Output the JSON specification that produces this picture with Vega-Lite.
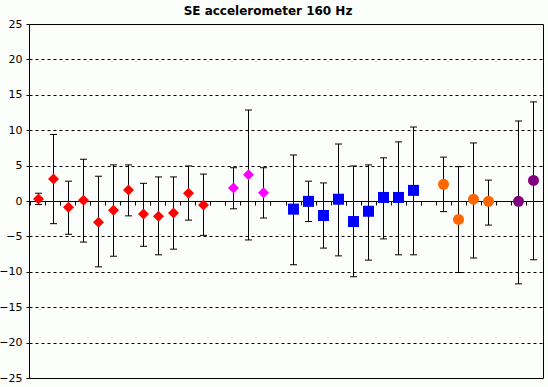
{
  "$schema": "https://vega.github.io/schema/vega-lite/v6.json",
  "width": 514,
  "height": 354,
  "autosize": {"type": "none"},
  "padding": {"left": 29, "top": 24, "right": 5, "bottom": 9},
  "background": "#FCFEFC",
  "title": {"text": "SE accelerometer 160 Hz", "font": "DejaVu Sans", "fontSize": 12, "fontWeight": "bold", "color": "#000000", "anchor": "middle", "dx": -18, "offset": 0},
  "config": {
    "view": {"stroke": "#000000", "strokeWidth": 1},
    "axis": {"labelFont": "DejaVu Sans", "labelFontSize": 11, "labelColor": "#000000"},
    "axisY": {"labelOverlap": false, "labelFlush": false}
  },
  "data": {"values": [
    {"i": 0, "g": "A", "m": 0.3, "lo": -0.5, "hi": 1.1},
    {"i": 1, "g": "A", "m": 3.1, "lo": -3.2, "hi": 9.4},
    {"i": 2, "g": "A", "m": -0.9, "lo": -4.7, "hi": 2.8},
    {"i": 3, "g": "A", "m": 0.1, "lo": -5.8, "hi": 5.9},
    {"i": 4, "g": "A", "m": -3.0, "lo": -9.3, "hi": 3.5},
    {"i": 5, "g": "A", "m": -1.3, "lo": -7.8, "hi": 5.1},
    {"i": 6, "g": "A", "m": 1.55, "lo": -2.1, "hi": 5.1},
    {"i": 7, "g": "A", "m": -1.85, "lo": -6.4, "hi": 2.5},
    {"i": 8, "g": "A", "m": -2.15, "lo": -7.6, "hi": 3.4},
    {"i": 9, "g": "A", "m": -1.7, "lo": -6.8, "hi": 3.4},
    {"i": 10, "g": "A", "m": 1.1, "lo": -2.7, "hi": 4.95},
    {"i": 11, "g": "A", "m": -0.55, "lo": -4.85, "hi": 3.8},
    {"i": 13, "g": "B", "m": 1.85, "lo": -1.1, "hi": 4.7},
    {"i": 14, "g": "B", "m": 3.7, "lo": -5.5, "hi": 12.85},
    {"i": 15, "g": "B", "m": 1.15, "lo": -2.4, "hi": 4.7},
    {"i": 17, "g": "C", "m": -1.15, "lo": -9.0, "hi": 6.5},
    {"i": 18, "g": "C", "m": -0.05, "lo": -2.9, "hi": 2.8},
    {"i": 19, "g": "C", "m": -2.05, "lo": -6.65, "hi": 2.55},
    {"i": 20, "g": "C", "m": 0.25, "lo": -7.75, "hi": 8.05},
    {"i": 21, "g": "C", "m": -2.9, "lo": -10.7, "hi": 4.95},
    {"i": 22, "g": "C", "m": -1.45, "lo": -8.35, "hi": 5.1},
    {"i": 23, "g": "C", "m": 0.5, "lo": -5.35, "hi": 6.1},
    {"i": 24, "g": "C", "m": 0.5, "lo": -7.6, "hi": 8.35},
    {"i": 25, "g": "C", "m": 1.5, "lo": -7.6, "hi": 10.45},
    {"i": 27, "g": "D", "m": 2.35, "lo": -1.5, "hi": 6.2},
    {"i": 28, "g": "D", "m": -2.6, "lo": -10.1, "hi": 4.85},
    {"i": 29, "g": "D", "m": 0.25, "lo": -8.05, "hi": 8.2},
    {"i": 30, "g": "D", "m": -0.05, "lo": -3.4, "hi": 2.95},
    {"i": 32, "g": "E", "m": -0.05, "lo": -11.7, "hi": 11.3},
    {"i": 33, "g": "E", "m": 2.9, "lo": -8.3, "hi": 14.0}
  ]},
  "encoding": {
    "x": {"field": "i", "type": "ordinal",
      "scale": {"domain": [0,1,2,3,4,5,6,7,8,9,10,11,12,13,14,15,16,17,18,19,20,21,22,23,24,25,26,27,28,29,30,31,32,33], "paddingInner": 0, "paddingOuter": 0.1333333},
      "axis": {"title": null, "labels": false, "offset": -177, "bandPosition": 0, "tickSize": 4, "tickColor": "#000000", "domainColor": "#000000", "grid": false}}
  },
  "layer": [
    {
      "mark": {"type": "rule", "color": "#000000", "strokeWidth": 1},
      "encoding": {
        "y": {"field": "lo", "type": "quantitative",
          "scale": {"domain": [-25, 25], "nice": false, "zero": false},
          "axis": {"title": null, "values": [-25,-20,-15,-10,-5,0,5,10,15,20,25], "labelOverlap": false, "labelFlush": false, "tickSize": 3, "tickColor": "#000000", "domainColor": "#000000", "labelPadding": 4, "grid": true, "gridColor": "#000000", "gridDash": [3, 3], "gridOpacity": 1}},
        "y2": {"field": "hi"}
      }
    },
    {
      "mark": {"type": "tick", "color": "#000000", "size": 7, "thickness": 1, "opacity": 1},
      "encoding": {"y": {"field": "lo", "type": "quantitative", "axis": {"title": null, "values": [-25,-20,-15,-10,-5,0,5,10,15,20,25], "labelOverlap": false, "labelFlush": false, "tickSize": 3, "tickColor": "#000000", "domainColor": "#000000", "labelPadding": 4, "grid": true, "gridColor": "#000000", "gridDash": [3, 3], "gridOpacity": 1}}}
    },
    {
      "mark": {"type": "tick", "color": "#000000", "size": 7, "thickness": 1, "opacity": 1},
      "encoding": {"y": {"field": "hi", "type": "quantitative", "axis": {"title": null, "values": [-25,-20,-15,-10,-5,0,5,10,15,20,25], "labelOverlap": false, "labelFlush": false, "tickSize": 3, "tickColor": "#000000", "domainColor": "#000000", "labelPadding": 4, "grid": true, "gridColor": "#000000", "gridDash": [3, 3], "gridOpacity": 1}}}
    },
    {
      "mark": {"type": "point", "filled": true, "opacity": 1},
      "encoding": {
        "y": {"field": "m", "type": "quantitative", "axis": {"title": null, "values": [-25,-20,-15,-10,-5,0,5,10,15,20,25], "labelOverlap": false, "labelFlush": false, "tickSize": 3, "tickColor": "#000000", "domainColor": "#000000", "labelPadding": 4, "grid": true, "gridColor": "#000000", "gridDash": [3, 3], "gridOpacity": 1}},
        "color": {"field": "g", "type": "nominal", "legend": null,
          "scale": {"domain": ["A","B","C","D","E"], "range": ["#FF0000","#FF00FF","#0000FF","#FF6600","#800080"]}},
        "shape": {"field": "g", "type": "nominal", "legend": null,
          "scale": {"domain": ["A","B","C","D","E"], "range": ["diamond","diamond","square","circle","circle"]}},
        "size": {"field": "g", "type": "nominal", "legend": null,
          "scale": {"domain": ["A","B","C","D","E"], "range": [121, 121, 64, 81, 81]}}
      }
    }
  ]
}
